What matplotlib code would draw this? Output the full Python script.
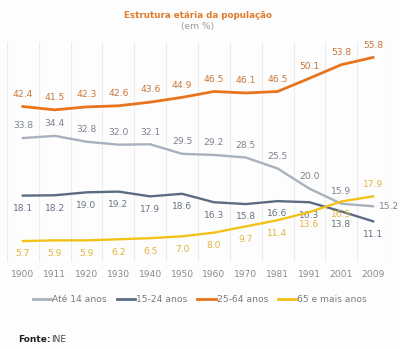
import matplotlib.pyplot as plt
from matplotlib.lines import Line2D

anos = ['1900', '1911', '1920', '1930', '1940', '1950', '1960', '1970', '1981', '1991', '2001', '2009']
ate14 = [33.8, 34.4, 32.8, 32.0, 32.1, 29.5, 29.2, 28.5, 25.5, 20.0, 15.9, 15.2]
de15a24 = [18.1, 18.2, 19.0, 19.2, 17.9, 18.6, 16.3, 15.8, 16.6, 16.3, 13.8, 11.1]
de25a64 = [42.4, 41.5, 42.3, 42.6, 43.6, 44.9, 46.5, 46.1, 46.5, 50.1, 53.8, 55.8]
mais65 = [5.7, 5.9, 5.9, 6.2, 6.5, 7.0, 8.0, 9.7, 11.4, 13.6, 16.5, 17.9]
nomes = ['Até 14 anos', '15-24 anos', '25-64 anos', '65 e mais anos']

cores = ['#a9b0be', '#5b6c82', '#e8741c', '#f2c21a']
cores_txt = ['#7c8290', '#6a7385', '#c7773a', '#e2b53a']

# label placement per point: 'a' above, 'b' below, 'r' right
pos = [
    ['a'] * 11 + ['r'],
    ['b'] * 12,
    ['a'] * 12,
    ['b'] * 11 + ['a'],
]

fig = plt.figure(figsize=(4, 3.49), dpi=100)
fig.patch.set_facecolor('#fdfdfd')
ax = fig.add_axes([7 / 400, 1 - 262 / 349, 382 / 400, 220 / 349])
ax.set_facecolor('#fdfdfd')

x = list(range(len(anos)))
series = [ate14, de15a24, de25a64, mais65]
fs = 6.6
for s, c, ct, p in zip(series, cores, cores_txt, pos):
    lw = 2.0 if c == '#e8741c' else 1.7
    ax.plot(x, s, color=c, lw=lw, solid_joinstyle='round', zorder=3)
    for xi, v, pp in zip(x, s, p):
        if pp == 'a':
            ax.annotate(f'{v:.1f}', (xi, v), xytext=(0, 5.5), textcoords='offset points',
                        ha='center', va='bottom', fontsize=fs, color=ct)
        elif pp == 'b':
            ax.annotate(f'{v:.1f}', (xi, v), xytext=(0, -6), textcoords='offset points',
                        ha='center', va='top', fontsize=fs, color=ct)
        else:
            ax.annotate(f'{v:.1f}', (xi, v), xytext=(4, 0), textcoords='offset points',
                        ha='left', va='center', fontsize=fs, color=ct)

for g in range(len(anos) + 1):
    ax.axvline(g - 0.5, color='#ececec', lw=0.8, zorder=0)

ax.set_xlim(-0.5, 11.5)
ax.set_ylim(0, 60)
ax.axis('off')

for xi, a in zip(x, anos):
    ax.text(xi, -3.5, a, ha='center', va='center', fontsize=fs, color='#8a8a8a')

fig.text(0.495, 1 - 15 / 349, 'Estrutura etária da população', ha='center', va='center',
         fontsize=6.3, fontweight='bold', color='#e07b2c')
fig.text(0.495, 1 - 26 / 349, '(em %)', ha='center', va='center', fontsize=6.6, color='#999999')

handles = [Line2D([], [], color=c, lw=2) for c in cores]
leg = fig.legend(handles, nomes, loc='center', bbox_to_anchor=(0.5, 1 - 300 / 349), ncol=4,
                 frameon=False, fontsize=6.6, handlelength=2.0, handletextpad=0.1,
                 columnspacing=1.1)
for t in leg.get_texts():
    t.set_color('#7a7a7a')

fig.text(18 / 400, 1 - 339 / 349, 'Fonte:', ha='left', va='center', fontsize=6.5,
         fontweight='bold', color='#222222')
fig.text(51 / 400, 1 - 339 / 349, 'INE', ha='left', va='center', fontsize=6.5, color='#444444')

fig.savefig('out.png', dpi=100, facecolor=fig.get_facecolor())
